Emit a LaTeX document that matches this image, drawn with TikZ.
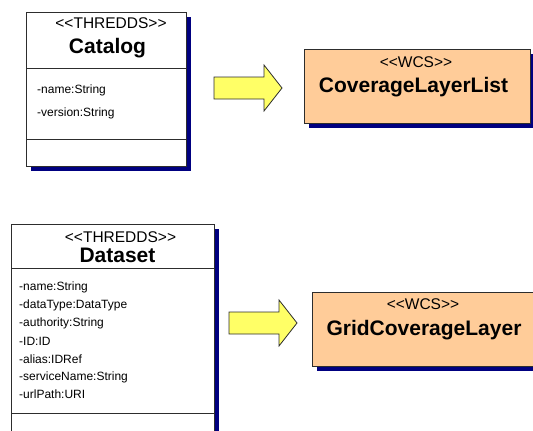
\documentclass[tikz,border=0pt]{standalone}
\usepackage{fontspec}
\setmainfont{Liberation Sans}
\usetikzlibrary{shadows}

\definecolor{umlshadow}{RGB}{0,0,128}
\definecolor{wcsfill}{RGB}{255,204,153}
\definecolor{arrowfill}{RGB}{255,255,102}
\definecolor{umledge}{RGB}{45,45,45}

\newcommand\stereo[1]{<\kern0pt<#1>\kern0pt>}

\tikzset{
  umlbox/.style={draw=umledge, line width=0.8pt, inner sep=0pt, anchor=north west,
    drop shadow={shadow xshift=5pt, shadow yshift=-5pt, fill=umlshadow, opacity=1}},
  classbox/.style={umlbox, fill=white},
  wcsbox/.style={umlbox, fill=wcsfill},
  divider/.style={draw=umledge, line width=0.8pt},
  stereotext/.style={inner sep=0pt, font=\fontsize{15.5}{18}\selectfont},
  titletext/.style={inner sep=0pt, font=\fontsize{21}{24}\selectfont\bfseries},
  attrtext/.style={inner sep=0pt, anchor=west, font=\fontsize{12}{14}\selectfont},
  arrowshape/.style={draw=umledge, line width=0.8pt, fill=arrowfill, line join=miter},
  blockarrow/.pic={
    \draw[arrowshape] (0,-11) -- (50,-11) -- (50,-23) -- (68,0) -- (50,23)
      -- (50,11) -- (0,11) -- cycle;
  }
}

\begin{document}
\begin{tikzpicture}[x=1pt, y=-1pt]
\useasboundingbox (0,0) rectangle (533,431);
\clip (0,0) rectangle (533,431);

% THREDDS Catalog class
\node[classbox, minimum width=160pt, minimum height=154pt] (catalog) at (26,12) {};
\draw[divider] ([yshift=-56pt]catalog.north west) -- ([yshift=-56pt]catalog.north east);
\draw[divider] ([yshift=-127pt]catalog.north west) -- ([yshift=-127pt]catalog.north east);
\node[stereotext] (catalogst) at (111,23) {\stereo{THREDDS}};
\node[titletext] (catalogname) at (107.5,48.5) {Catalog};
\node[attrtext] (catalogattr1) at (37,90) {-name:String};
\node[attrtext] (catalogattr2) at (37,113) {-version:String};

% mapping arrow: Catalog -> CoverageLayerList
\pic (maparrow1) at (214,88) {blockarrow};

% WCS CoverageLayerList
\node[wcsbox, minimum width=226pt, minimum height=74pt] (layerlist) at (304,49) {};
\node[stereotext] (layerlistst) at (416,62) {\stereo{WCS}};
\node[titletext] (layerlistname) at (413.5,87) {CoverageLayerList};

% THREDDS Dataset class
\node[classbox, minimum width=203pt, minimum height=224pt] (dataset) at (11,224) {};
\draw[divider] ([yshift=-44pt]dataset.north west) -- ([yshift=-44pt]dataset.north east);
\draw[divider] ([yshift=-189pt]dataset.north west) -- ([yshift=-189pt]dataset.north east);
\node[stereotext] (datasetst) at (120.5,237.5) {\stereo{THREDDS}};
\node[titletext] (datasetname) at (117.5,255) {Dataset};
\node[attrtext] (dsattr1) at (19,287) {-name:String};
\node[attrtext] (dsattr2) at (19,305) {-dataType:DataType};
\node[attrtext] (dsattr3) at (19,323) {-authority:String};
\node[attrtext] (dsattr4) at (19,341) {-ID:ID};
\node[attrtext] (dsattr5) at (19,359) {-alias:IDRef};
\node[attrtext] (dsattr6) at (19,377) {-serviceName:String};
\node[attrtext] (dsattr7) at (19,394) {-urlPath:URI};

% mapping arrow: Dataset -> GridCoverageLayer
\pic (maparrow2) at (229,323) {blockarrow};

% WCS GridCoverageLayer
\node[wcsbox, minimum width=240pt, minimum height=74pt] (gridlayer) at (312,292) {};
\node[stereotext] (gridlayerst) at (423,304) {\stereo{WCS}};
\node[titletext] (gridlayername) at (424,330) {GridCoverageLayer};
\end{tikzpicture}
\end{document}
